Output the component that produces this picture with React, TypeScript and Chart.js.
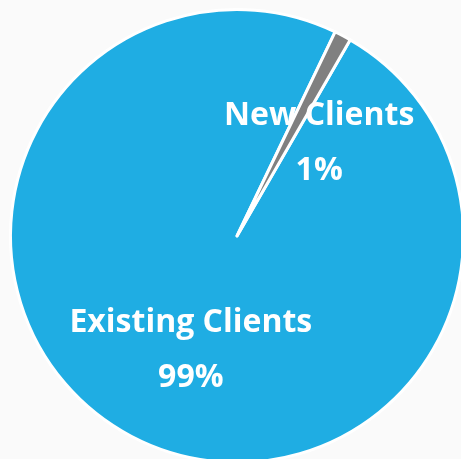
import React, { useEffect, useRef } from "react";
import { Chart, registerables } from "chart.js";

Chart.register(...registerables);

const categories = ["Existing Clients", "New Clients"];
const values = [98.8, 1.2];
const percentLabels = ["99%", "1%"];
const colors = ["#1fade3", "#808080"];

const labelPlugin = {
  id: "sliceLabels",
  afterDatasetsDraw(chart: any) {
    const ctx = chart.ctx;
    const meta = chart.getDatasetMeta(0);
    const cfg = chart.options.plugins.sliceLabels;
    meta.data.forEach((arc: any, i: number) => {
      const { x, y, startAngle, endAngle, outerRadius } = arc.getProps(
        ["x", "y", "startAngle", "endAngle", "outerRadius"],
        true
      );
      const mid = (startAngle + endAngle) / 2;
      const r = outerRadius * cfg.radius;
      const off = cfg.offsets[i];
      const cx = x + Math.cos(mid) * r + off[0];
      const cy = y + Math.sin(mid) * r + off[1];
      ctx.save();
      ctx.fillStyle = "#ffffff";
      ctx.font = cfg.font;
      ctx.textAlign = "center";
      ctx.textBaseline = "middle";
      ctx.fillText(categories[i], cx, cy - cfg.lineGap / 2);
      ctx.fillText(percentLabels[i], cx, cy + cfg.lineGap / 2);
      ctx.restore();
    });
  },
};

export default function App() {
  const ref = useRef<HTMLCanvasElement>(null);
  useEffect(() => {
    if (!ref.current) return;
    const chart = new Chart(ref.current, {
      type: "pie",
      data: {
        labels: categories,
        datasets: [
          {
            data: values,
            backgroundColor: colors,
            borderColor: "#ffffff",
            borderWidth: 3,
            borderJoinStyle: "round",
          } as any,
        ],
      },
      options: {
        animation: false,
        responsive: false,
        rotation: 30,
        layout: { padding: 8 },
        plugins: {
          legend: { display: false },
          tooltip: { enabled: false },
          sliceLabels: {
            radius: 0.55,
            offsets: [
              [12, 4],
              [24, 18],
            ],
            font: "bold 32px 'Open Sans'",
            lineGap: 55,
          },
        } as any,
      },
      plugins: [labelPlugin],
    });
    return () => chart.destroy();
  }, []);
  return (
    <div
      style={{
        position: "fixed",
        left: 0,
        top: 0,
        width: 461,
        height: 459,
        overflow: "hidden",
        background: "#fafafa",
      }}
    >
      <canvas
        ref={ref}
        width={474}
        height={472}
        style={{ position: "absolute", left: 0, top: 0, width: 474, height: 472 }}
      />
    </div>
  );
}
